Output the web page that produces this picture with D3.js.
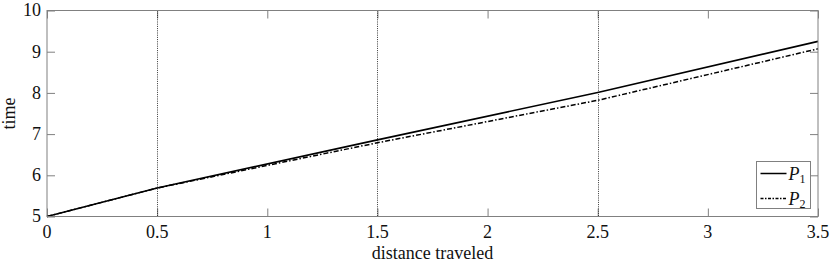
<!DOCTYPE html>
<html>
<head>
<meta charset="utf-8">
<script src="https://cdn.jsdelivr.net/npm/d3@7"></script>
<style>
body { margin: 0; background: #fff; }
</style>
</head>
<body>
<div id="viz"></div>
<script>
var width = 830,
  height = 266;

// data
var distance = [0, 0.5, 1.5, 2.5, 3.5];
var timeP1 = [5, 5.69, 6.86, 8.01, 9.25];
var timeP2 = [5, 5.69, 6.79, 7.82, 9.07];
var markers = [0.5, 1.5, 2.5];
var xTicks = [0, 0.5, 1, 1.5, 2, 2.5, 3, 3.5];
var yTicks = [5, 6, 7, 8, 9, 10];
var seriesNames = ['1', '2'];

var serif = "'Liberation Serif', 'DejaVu Serif', 'Times New Roman', serif";

var margin = { top: 10.5, right: 12, bottom: 49.5, left: 47 };
var innerW = width - margin.left - margin.right,
  innerH = height - margin.top - margin.bottom;

var svg = d3.select('#viz').append('svg')
  .attr('width', width)
  .attr('height', height)
  .attr('font-family', serif)
  .style('font-family', serif);

var g = svg.append('g')
  .attr('transform', 'translate(' + margin.left + ',' + margin.top + ')');

var x = d3.scaleLinear().domain([0, 3.5]).range([0, innerW]);
var y = d3.scaleLinear().domain([5, 10]).range([innerH, 0]);

var tickLen = 8;
var axisColor = '#808080';

// ticks inside the box, all four sides
var xAxisB = d3.axisBottom(x).tickValues(xTicks).tickSizeInner(-tickLen).tickSizeOuter(0).tickFormat('');
var xAxisT = d3.axisTop(x).tickValues(xTicks).tickSizeInner(-tickLen).tickSizeOuter(0).tickFormat('');
var yAxisL = d3.axisLeft(y).tickValues(yTicks).tickSizeInner(-tickLen).tickSizeOuter(0).tickFormat('');
var yAxisR = d3.axisRight(y).tickValues(yTicks).tickSizeInner(-tickLen).tickSizeOuter(0).tickFormat('');

function styleAxis(sel) {
  sel.selectAll('line').attr('stroke', axisColor);
  sel.select('.domain').remove();
}

g.append('g').attr('transform', 'translate(0,' + innerH + ')').call(xAxisB).call(styleAxis);
g.append('g').call(xAxisT).call(styleAxis);
g.append('g').call(yAxisL).call(styleAxis);
g.append('g').attr('transform', 'translate(' + innerW + ',0)').call(yAxisR).call(styleAxis);

// tick labels
g.selectAll('.xlab')
  .data(xTicks)
  .enter().append('text')
  .attr('x', function (d) { return x(d); })
  .attr('y', innerH + 21)
  .attr('text-anchor', 'middle')
  .attr('font-size', 18)
  .attr('fill', '#111')
  .text(function (d) { return d; });

g.selectAll('.ylab')
  .data(yTicks)
  .enter().append('text')
  .attr('x', -6)
  .attr('y', function (d) { return y(d); })
  .attr('dy', '0.33em')
  .attr('text-anchor', 'end')
  .attr('font-size', 18)
  .attr('fill', '#111')
  .text(function (d) { return d; });

// axis titles
svg.append('text')
  .attr('x', margin.left + innerW / 2)
  .attr('y', 259)
  .attr('text-anchor', 'middle')
  .attr('font-size', 18)
  .attr('fill', '#111')
  .text('distance traveled');

svg.append('text')
  .attr('transform', 'translate(15,' + (margin.top + innerH / 2) + ') rotate(-90)')
  .attr('text-anchor', 'middle')
  .attr('font-size', 18)
  .attr('fill', '#111')
  .text('time');

// dotted vertical markers
g.selectAll('.marker')
  .data(markers)
  .enter().append('line')
  .attr('x1', function (d) { return Math.round(x(d)) + 0.5; })
  .attr('x2', function (d) { return Math.round(x(d)) + 0.5; })
  .attr('y1', 0)
  .attr('y2', innerH)
  .attr('stroke', '#222')
  .attr('stroke-width', 0.9)
  .attr('stroke-dasharray', '1,1.2');

// series lines
var line = d3.line()
  .x(function (d) { return x(d[0]); })
  .y(function (d) { return y(d[1]); });

g.append('path')
  .datum(d3.zip(distance, timeP2))
  .attr('d', line)
  .attr('fill', 'none')
  .attr('stroke', '#000')
  .attr('stroke-width', 1.5)
  .attr('stroke-dasharray', '5,2,1.5,2');

g.append('path')
  .datum(d3.zip(distance, timeP1))
  .attr('d', line)
  .attr('fill', 'none')
  .attr('stroke', '#000')
  .attr('stroke-width', 1.6);

// box
g.append('rect')
  .attr('x', 0)
  .attr('y', 0)
  .attr('width', innerW)
  .attr('height', innerH)
  .attr('fill', 'none')
  .attr('stroke', axisColor)
  .attr('stroke-width', 1);

// legend
var legend = svg.append('g').attr('transform', 'translate(756.5,161.5)');

legend.append('rect')
  .attr('width', 54)
  .attr('height', 47)
  .attr('fill', '#fff')
  .attr('stroke', axisColor);

var rows = legend.selectAll('.row')
  .data(seriesNames)
  .enter().append('g')
  .attr('transform', function (d, i) { return 'translate(0,' + (12 + i * 25) + ')'; });

rows.append('line')
  .attr('x1', 4)
  .attr('x2', 30)
  .attr('y1', 0)
  .attr('y2', 0)
  .attr('stroke', '#000')
  .attr('stroke-width', 1.5)
  .attr('stroke-dasharray', function (d, i) { return i === 0 ? null : '3,1.5,1.5,1.5'; });

var lt = rows.append('text')
  .attr('x', 32)
  .attr('y', 6)
  .attr('font-size', 18)
  .attr('font-style', 'italic')
  .attr('fill', '#111');

lt.append('tspan').text('P');
lt.append('tspan')
  .attr('dy', 3)
  .attr('font-size', 12)
  .attr('font-style', 'normal')
  .text(function (d) { return d; });
</script>
</body>
</html>
